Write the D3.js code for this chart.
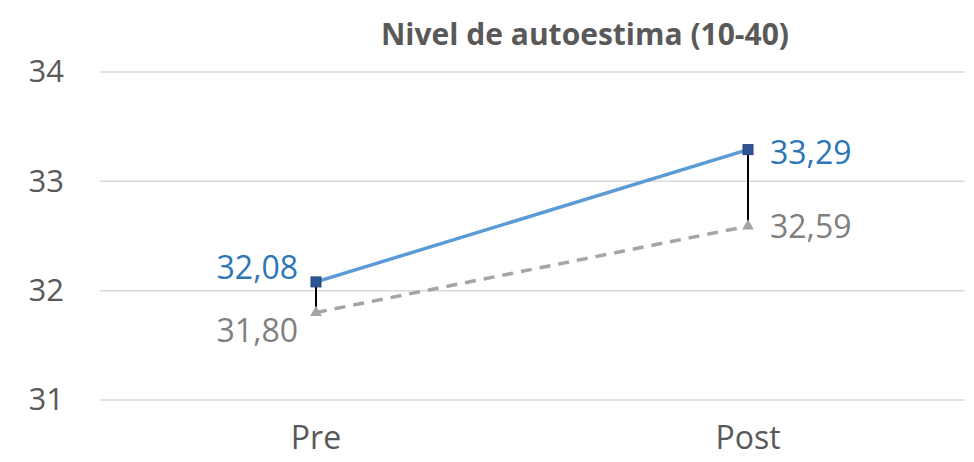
<!DOCTYPE html>
<html><head><meta charset="utf-8">
<script src="https://cdn.jsdelivr.net/npm/d3@7"></script>
<style>body{margin:0;background:#fff}svg{display:block}</style>
</head><body>
<script>
const categories = ["Pre", "Post"];
const seriesA = [32.08, 33.29];
const seriesB = [31.80, 32.59];
const yTicks = [31, 32, 33, 34];
const labelsA = ["32,08", "33,29"];
const labelsB = ["31,80", "32,59"];
const title = "Nivel de autoestima (10-40)";

const W = 974, H = 462;
const svg = d3.select("body").append("svg").attr("width", W).attr("height", H);
const font = "'Open Sans', sans-serif";

const x = d3.scaleBand().domain(categories).range([100, 964]);
const y = d3.scaleLinear().domain([31, 34]).range([400, 72]);
const cx = c => x(c) + x.bandwidth() / 2;

// grid
svg.append("g").selectAll("line").data(yTicks).join("line")
  .attr("x1", 100).attr("x2", 965)
  .attr("y1", d => y(d)).attr("y2", d => y(d))
  .attr("stroke", "#d9d9d9").attr("stroke-width", 1.5);

// y axis labels
const yAxis = d3.axisLeft(y).tickValues(yTicks).tickSize(0).tickPadding(0).tickFormat(d3.format("d"));
const gy = svg.append("g").attr("transform", "translate(64,0)").call(yAxis);
gy.select(".domain").remove();
gy.selectAll("text").attr("font-family", font).attr("font-size", 31).attr("fill", "#595959");

// x axis labels
const xAxis = d3.axisBottom(x).tickSize(0).tickPadding(0);
const gx = svg.append("g").attr("transform", "translate(0,426)").call(xAxis);
gx.select(".domain").remove();
gx.selectAll("text").attr("font-family", font).attr("font-size", 32).attr("fill", "#595959");

// title
svg.append("text").attr("x", 585).attr("y", 45).attr("text-anchor", "middle")
  .attr("font-family", font).attr("font-weight", "bold").attr("font-size", 30)
  .attr("fill", "#595959").text(title);

// high-low lines
svg.append("g").selectAll("line").data(categories).join("line")
  .attr("x1", d => cx(d)).attr("x2", d => cx(d))
  .attr("y1", (d, i) => y(seriesA[i])).attr("y2", (d, i) => y(seriesB[i]))
  .attr("stroke", "#000").attr("stroke-width", 2);

const line = d3.line().x((d, i) => cx(categories[i])).y(d => y(d));

svg.append("path").datum(seriesB).attr("d", line).attr("fill", "none")
  .attr("stroke", "#a5a5a5").attr("stroke-width", 3.5).attr("stroke-dasharray", "11,8");
svg.append("path").datum(seriesA).attr("d", line).attr("fill", "none")
  .attr("stroke", "#5b9bd5").attr("stroke-width", 3.5);

// markers
svg.append("g").selectAll("path").data(seriesB).join("path")
  .attr("d", d3.symbol(d3.symbolTriangle, 60))
  .attr("transform", (d, i) => `translate(${cx(categories[i])},${y(d)})`)
  .attr("fill", "#a5a5a5");
svg.append("g").selectAll("rect").data(seriesA).join("rect")
  .attr("x", (d, i) => cx(categories[i]) - 5).attr("y", d => y(d) - 5)
  .attr("width", 10).attr("height", 10)
  .attr("fill", "#2f5597").attr("stroke", "#264478").attr("stroke-width", 1);

// data labels
const offA = [{dx: -18, dy: -3, a: "end"}, {dx: 22, dy: 14, a: "start"}];
const offB = [{dx: -18, dy: 29, a: "end"}, {dx: 22, dy: 12, a: "start"}];
svg.append("g").selectAll("text").data(seriesA).join("text")
  .attr("x", (d, i) => cx(categories[i]) + offA[i].dx)
  .attr("y", d => y(d)).attr("dy", (d, i) => offA[i].dy)
  .attr("text-anchor", (d, i) => offA[i].a)
  .attr("font-family", font).attr("font-size", 32).attr("fill", "#2e75b6")
  .text((d, i) => labelsA[i]);
svg.append("g").selectAll("text").data(seriesB).join("text")
  .attr("x", (d, i) => cx(categories[i]) + offB[i].dx)
  .attr("y", d => y(d)).attr("dy", (d, i) => offB[i].dy)
  .attr("text-anchor", (d, i) => offB[i].a)
  .attr("font-family", font).attr("font-size", 32).attr("fill", "#7f7f7f")
  .text((d, i) => labelsB[i]);
</script>
</body></html>
